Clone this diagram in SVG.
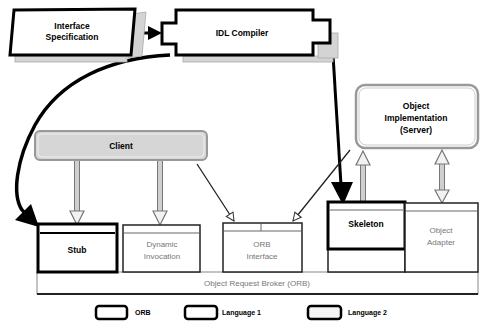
<svg xmlns="http://www.w3.org/2000/svg" width="480" height="323" viewBox="0 0 480 323">
<defs>
<marker id="smallHollow" markerWidth="10" markerHeight="10" refX="9" refY="5" orient="auto" markerUnits="userSpaceOnUse">
<path d="M1,1 L9,5 L1,9 Z" fill="#fff" stroke="#333" stroke-width="1"/>
</marker>
</defs>
<style>
.lbl{font-family:"Liberation Sans",Arial,sans-serif;font-weight:bold;font-size:8.5px;fill:#000;text-anchor:middle}
.lgt{font-family:"Liberation Sans",Arial,sans-serif;font-size:8px;fill:#777;text-anchor:middle}
.leg{font-family:"Liberation Sans",Arial,sans-serif;font-weight:bold;font-size:7px;fill:#000}
.thick{fill:#fff;stroke:#000;stroke-width:3}
.thin{fill:#fff;stroke:#222;stroke-width:1.5}
.shadow{fill:#d4d4d4;stroke:#aaa;stroke-width:0.8}
.hdr{fill:none;stroke:#666;stroke-width:1}
.hollow{fill:#f2f2f2;stroke:#777;stroke-width:1.2}
.stem{fill:#cfcfcf;stroke:#777;stroke-width:1}
.round{fill:#fff;stroke:#999;stroke-width:2.5}
</style>

<g id="connectors">
<path d="M170,55 C110,58 60,80 35,125 C16,160 12,195 22,210 L28,216" fill="none" stroke="#000" stroke-width="3.5"/>
<polygon points="39,227 15,220 31,204" fill="#000"/>
<line x1="333" y1="55" x2="341" y2="185" stroke="#000" stroke-width="3"/>
<polygon points="331,182 353,182 343,205" fill="#000"/>
<line x1="130" y1="33" x2="150" y2="33" stroke="#000" stroke-width="3"/>
<polygon points="148,26 162,33 148,40" fill="#000"/>
<line x1="197" y1="164" x2="234" y2="221" stroke="#222" stroke-width="1.3" marker-end="url(#smallHollow)"/>
<line x1="350" y1="150" x2="293" y2="221" stroke="#222" stroke-width="1.3" marker-end="url(#smallHollow)"/>
<rect x="74.5" y="160" width="5" height="52" class="stem"/>
<polygon points="70,211 84,211 77,225" class="hollow"/>
<rect x="157.5" y="160" width="5" height="52" class="stem"/>
<polygon points="153,211 167,211 160,225" class="hollow"/>
<rect x="360.5" y="164" width="5" height="38" class="stem"/>
<polygon points="356,165 370,165 363,151" class="hollow"/>
<rect x="439.5" y="163" width="5" height="28" class="stem"/>
<polygon points="435,164 449,164 442,150" class="hollow"/>
<polygon points="435,190 449,190 442,203" class="hollow"/>
</g>

<g id="interface-spec">
<rect x="15" y="56" width="112" height="6" class="shadow"/>
<polygon points="132,14 146,12 142,56 128,58" class="shadow"/>
<polygon points="14,10 135,9 131,55 10,55" class="thick"/>
<text x="72" y="29" class="lbl">Interface</text>
<text x="72" y="40" class="lbl">Specification</text>
</g>

<g id="idl-compiler">
<rect x="183" y="56" width="150" height="6" class="shadow"/>
<rect x="318" y="33" width="20" height="25" class="shadow"/>
<path d="M176,10 L313,10 L313,20 L330,20 L330,43 L313,43 L313,55 L176,55 L176,44 L162,44 L162,23 L176,23 Z" class="thick"/>
<text x="242" y="36" class="lbl" font-size="10">IDL Compiler</text>
</g>

<g id="client">
<rect x="35" y="131" width="172" height="29" rx="5" fill="#d6d6d6" stroke="#999" stroke-width="2"/>
<rect x="38" y="134" width="166" height="23" rx="4" fill="none" stroke="#eee" stroke-width="1"/>
<text x="121" y="149" class="lbl">Client</text>
</g>

<g id="object-impl">
<rect x="356" y="85" width="122" height="63" rx="9" class="round"/>
<rect x="359" y="88" width="116" height="57" rx="7" fill="none" stroke="#ccc" stroke-width="1"/>
<text x="416" y="109" class="lbl">Object</text>
<text x="416" y="121" class="lbl">Implementation</text>
<text x="416" y="133" class="lbl">(Server)</text>
</g>

<g id="orb">
<rect x="37" y="272" width="441" height="22" fill="#fff" stroke="#888" stroke-width="1"/>
<line x1="37" y1="294" x2="478" y2="294" stroke="#222" stroke-width="2"/>
<text x="257" y="286" class="lgt">Object Request Broker (ORB)</text>
</g>

<g id="stub">
<rect x="38" y="224" width="79" height="48" class="thick"/>
<line x1="40" y1="233" x2="115" y2="233" stroke="#000" stroke-width="2"/>
<text x="77" y="253" class="lbl">Stub</text>
</g>

<g id="dynamic-invocation">
<rect x="123" y="225" width="77" height="47" class="thin"/>
<line x1="124" y1="233" x2="199" y2="233" class="hdr"/>
<text x="162" y="247" class="lgt">Dynamic</text>
<text x="162" y="259" class="lgt">Invocation</text>
</g>

<g id="orb-interface">
<rect x="223" y="223" width="79" height="49" class="thin"/>
<line x1="224" y1="231" x2="301" y2="231" class="hdr"/>
<line x1="261" y1="223" x2="261" y2="231" class="hdr"/>
<text x="262" y="247" class="lgt">ORB</text>
<text x="262" y="259" class="lgt">Interface</text>
</g>

<g id="skeleton">
<rect x="328" y="202" width="77" height="70" class="thin"/>
<rect x="328" y="202" width="77" height="47" class="thick"/>
<line x1="330" y1="210" x2="403" y2="210" class="hdr"/>
<text x="366" y="227" class="lbl">Skeleton</text>
</g>

<g id="object-adapter">
<rect x="405" y="203" width="73" height="69" class="thin"/>
<line x1="406" y1="211" x2="477" y2="211" class="hdr"/>
<text x="441" y="233" class="lgt">Object</text>
<text x="441" y="245" class="lgt">Adapter</text>
</g>

<g id="legend">
<rect x="96" y="306" width="31" height="13" rx="3" fill="#fff" stroke="#000" stroke-width="2.5"/>
<text x="135" y="315" class="leg">ORB</text>
<rect x="185" y="306" width="32" height="13" rx="3" fill="#fff" stroke="#000" stroke-width="2.5"/>
<text x="222" y="315" class="leg">Language 1</text>
<rect x="308" y="306" width="33" height="13" rx="3" fill="#f4f4f4" stroke="#000" stroke-width="2.5"/>
<text x="348" y="315" class="leg">Language 2</text>
</g>
</svg>
